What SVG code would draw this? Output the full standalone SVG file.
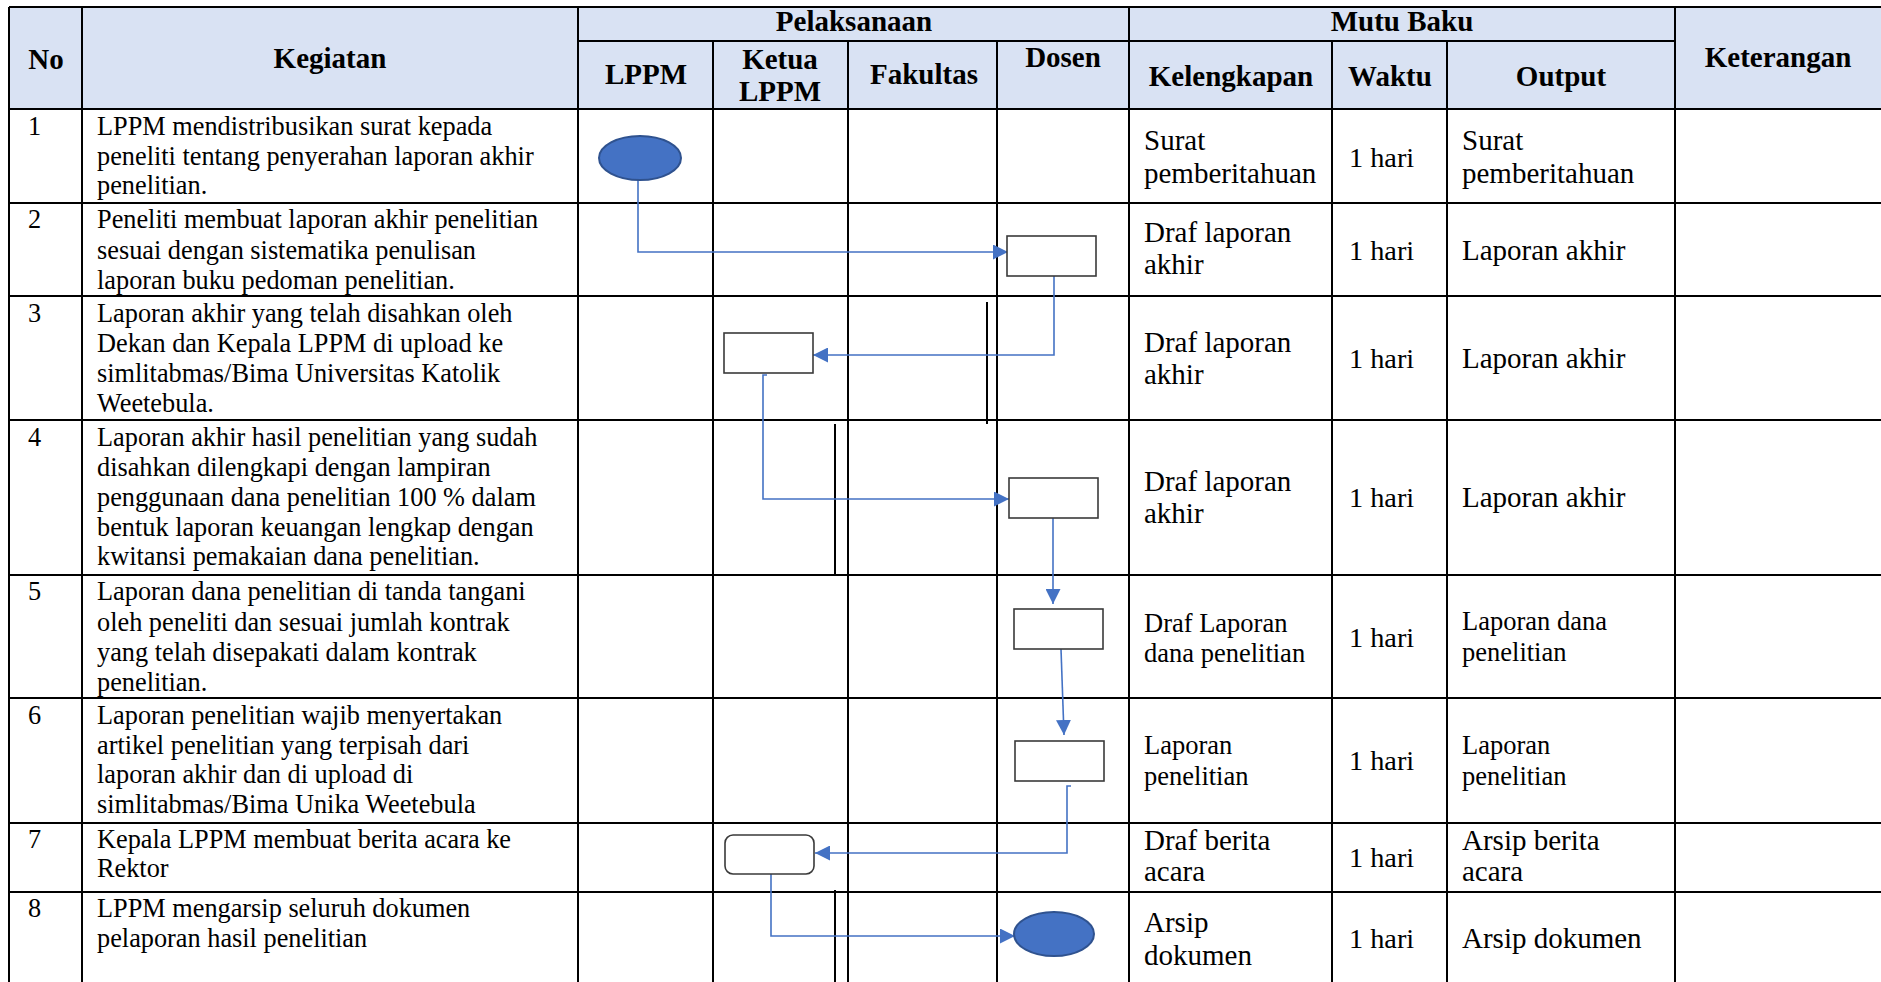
<svg xmlns="http://www.w3.org/2000/svg" width="1881" height="982" viewBox="0 0 1881 982">
<style>
.g{stroke:#000;stroke-width:2;fill:none}
.h{font-family:"Liberation Serif","Times New Roman",serif;font-weight:bold;font-size:29px;fill:#000;text-anchor:middle}
.t{font-family:"Liberation Serif","Times New Roman",serif;font-size:26.3px;fill:#000}
.r{font-family:"Liberation Serif","Times New Roman",serif;font-size:29px;fill:#000}
.s{font-family:"Liberation Serif","Times New Roman",serif;font-size:26.5px;fill:#000}
.w{font-family:"Liberation Serif","Times New Roman",serif;font-size:28.3px;fill:#000}
.box{fill:#fff;stroke:#3a3a3a;stroke-width:1.6}
.term{fill:#4472C4;stroke:#2F528F;stroke-width:2}
.x{stroke:#000;stroke-width:2}
.c{fill:none;stroke:#4472C4;stroke-width:1.6}
</style>
<defs>
<marker id="ah" markerUnits="userSpaceOnUse" markerWidth="16" markerHeight="15" refX="15" refY="7.5" orient="auto">
<path d="M0,0 L15,7.5 L0,15 Z" fill="#4472C4"/>
</marker>
</defs>
<rect x="0" y="0" width="1881" height="982" fill="#fff"/>
<g id="table">
<rect x="9" y="7" width="1872" height="102" fill="#D9E2F3"/>
<path class="g" d="M9,7 H1881 M578,41 H1675 M9,109 H1881 M9,203 H1881 M9,296 H1881 M9,420 H1881 M9,575 H1881 M9,698 H1881 M9,823 H1881 M9,892 H1881"/>
<path class="g" d="M9,7 V982 M82,7 V982 M578,7 V982 M713,41 V982 M848,41 V982 M997,41 V982 M1129,7 V982 M1332,41 V982 M1447,41 V982 M1675,7 V982"/>
<path class="x" d="M987,302 V424 M835,424 V574 M835,890 V982"/>
</g>
<g id="header">
<text class="h" x="46" y="69">No</text>
<text class="h" x="330" y="68">Kegiatan</text>
<text class="h" x="854" y="31">Pelaksanaan</text>
<text class="h" x="1402" y="31">Mutu Baku</text>
<text class="h" x="1778" y="67">Keterangan</text>
<text class="h" x="646" y="84">LPPM</text>
<text class="h" x="780" y="69">Ketua</text>
<text class="h" x="780" y="101">LPPM</text>
<text class="h" x="924" y="84">Fakultas</text>
<text class="h" x="1063" y="67">Dosen</text>
<text class="h" x="1231" y="86">Kelengkapan</text>
<text class="h" x="1390" y="86">Waktu</text>
<text class="h" x="1561" y="86">Output</text>
</g>
<g id="rows">
<g id="row1">
<text class="t" x="28" y="135">1</text>
<text class="t" x="97" y="135">LPPM mendistribusikan surat kepada</text>
<text class="t" x="97" y="165">peneliti tentang penyerahan laporan akhir</text>
<text class="t" x="97" y="194">penelitian.</text>
<text class="r" x="1144" y="150">Surat</text>
<text class="r" x="1144" y="183">pemberitahuan</text>
<text class="w" x="1349" y="167">1 hari</text>
<text class="r" x="1462" y="150">Surat</text>
<text class="r" x="1462" y="183">pemberitahuan</text>
</g>
<g id="row2">
<text class="t" x="28" y="228">2</text>
<text class="t" x="97" y="228">Peneliti membuat laporan akhir penelitian</text>
<text class="t" x="97" y="259">sesuai dengan sistematika penulisan</text>
<text class="t" x="97" y="289">laporan buku pedoman penelitian.</text>
<text class="r" x="1144" y="242">Draf laporan</text>
<text class="r" x="1144" y="274">akhir</text>
<text class="w" x="1349" y="260">1 hari</text>
<text class="r" x="1462" y="260">Laporan akhir</text>
</g>
<g id="row3">
<text class="t" x="28" y="322">3</text>
<text class="t" x="97" y="322">Laporan akhir yang telah disahkan oleh</text>
<text class="t" x="97" y="352">Dekan dan Kepala LPPM di upload ke</text>
<text class="t" x="97" y="382">simlitabmas/Bima Universitas Katolik</text>
<text class="t" x="97" y="412">Weetebula.</text>
<text class="r" x="1144" y="352">Draf laporan</text>
<text class="r" x="1144" y="384">akhir</text>
<text class="w" x="1349" y="368">1 hari</text>
<text class="r" x="1462" y="368">Laporan akhir</text>
</g>
<g id="row4">
<text class="t" x="28" y="446">4</text>
<text class="t" x="97" y="446">Laporan akhir hasil penelitian yang sudah</text>
<text class="t" x="97" y="476">disahkan dilengkapi dengan lampiran</text>
<text class="t" x="97" y="506">penggunaan dana penelitian 100 % dalam</text>
<text class="t" x="97" y="536">bentuk laporan keuangan lengkap dengan</text>
<text class="t" x="97" y="565">kwitansi pemakaian dana penelitian.</text>
<text class="r" x="1144" y="491">Draf laporan</text>
<text class="r" x="1144" y="523">akhir</text>
<text class="w" x="1349" y="507">1 hari</text>
<text class="r" x="1462" y="507">Laporan akhir</text>
</g>
<g id="row5">
<text class="t" x="28" y="600">5</text>
<text class="t" x="97" y="600">Laporan dana penelitian di tanda tangani</text>
<text class="t" x="97" y="631">oleh peneliti dan sesuai jumlah kontrak</text>
<text class="t" x="97" y="661">yang telah disepakati dalam kontrak</text>
<text class="t" x="97" y="691">penelitian.</text>
<text class="s" x="1144" y="632">Draf Laporan</text>
<text class="s" x="1144" y="662">dana penelitian</text>
<text class="w" x="1349" y="647">1 hari</text>
<text class="s" x="1462" y="630">Laporan dana</text>
<text class="s" x="1462" y="661">penelitian</text>
</g>
<g id="row6">
<text class="t" x="28" y="724">6</text>
<text class="t" x="97" y="724">Laporan penelitian wajib menyertakan</text>
<text class="t" x="97" y="754">artikel penelitian yang terpisah dari</text>
<text class="t" x="97" y="783">laporan akhir dan di upload di</text>
<text class="t" x="97" y="813">simlitabmas/Bima Unika Weetebula</text>
<text class="s" x="1144" y="754">Laporan</text>
<text class="s" x="1144" y="785">penelitian</text>
<text class="w" x="1349" y="770">1 hari</text>
<text class="s" x="1462" y="754">Laporan</text>
<text class="s" x="1462" y="785">penelitian</text>
</g>
<g id="row7">
<text class="t" x="28" y="848">7</text>
<text class="t" x="97" y="848">Kepala LPPM membuat berita acara ke</text>
<text class="t" x="97" y="877">Rektor</text>
<text class="r" x="1144" y="850">Draf berita</text>
<text class="r" x="1144" y="881">acara</text>
<text class="w" x="1349" y="867">1 hari</text>
<text class="r" x="1462" y="850">Arsip berita</text>
<text class="r" x="1462" y="881">acara</text>
</g>
<g id="row8">
<text class="t" x="28" y="917">8</text>
<text class="t" x="97" y="917">LPPM mengarsip seluruh dokumen</text>
<text class="t" x="97" y="947">pelaporan hasil penelitian</text>
<text class="r" x="1144" y="932">Arsip</text>
<text class="r" x="1144" y="965">dokumen</text>
<text class="w" x="1349" y="948">1 hari</text>
<text class="r" x="1462" y="948">Arsip dokumen</text>
</g>
</g>
<g id="connectors">
<path class="c" d="M638,180 V252 H1008" marker-end="url(#ah)"/>
<path class="c" d="M1054,276 V355 H813" marker-end="url(#ah)"/>
<path class="c" d="M767,375 H763 V499 H1009" marker-end="url(#ah)"/>
<path class="c" d="M1053,518 V604" marker-end="url(#ah)"/>
<path class="c" d="M1061,649 L1064,735" marker-end="url(#ah)"/>
<path class="c" d="M1071,786 H1067 V853 H815" marker-end="url(#ah)"/>
<path class="c" d="M771,874 V936 H1015" marker-end="url(#ah)"/>
</g>
<g id="n1"><ellipse class="term" cx="640" cy="158" rx="41" ry="22"/></g>
<g id="n2"><rect class="box" x="1007" y="236" width="89" height="40"/></g>
<g id="n3"><rect class="box" x="724" y="333" width="89" height="40"/></g>
<g id="n4"><rect class="box" x="1009" y="478" width="89" height="40"/></g>
<g id="n5"><rect class="box" x="1014" y="609" width="89" height="40"/></g>
<g id="n6"><rect class="box" x="1015" y="741" width="89" height="40"/></g>
<g id="n7"><rect class="box" x="725" y="835" width="89" height="39" rx="8"/></g>
<g id="n8"><ellipse class="term" cx="1054" cy="934" rx="40" ry="22"/></g>
</svg>
